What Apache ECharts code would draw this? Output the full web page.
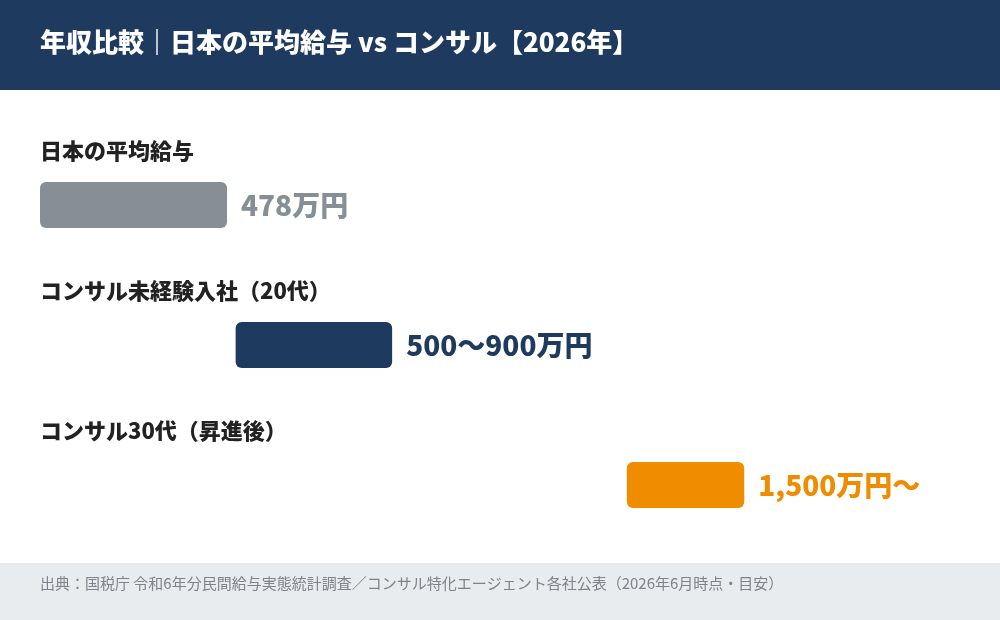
<!DOCTYPE html>
<html lang="ja">
<head>
<meta charset="UTF-8">
<title>年収比較</title>
<script src="https://cdn.jsdelivr.net/npm/echarts@6/dist/echarts.min.js"></script>
<style>body{margin:0}#app{width:1000px;height:620px}</style>
</head>
<body>
<div id="app"></div>
<script>
var categories = ["日本の平均給与", "コンサル未経験入社（20代）", "コンサル30代（昇進後）"];
var lowValues = [0, 500, 1500];
var highValues = [478, 900, 1800];
var valueLabels = ["478万円", "500〜900万円", "1,500万円〜"];
var colors = ["#868e96", "#1f3a5f", "#f08c00"];
var font = '"Noto Sans CJK JP", "Noto Sans", sans-serif';

var myChart = echarts.init(document.getElementById('app'));
var gridTop = 135, rowH = 140;
var titleTexts = categories.map(function (c, i) {
	return {
		type: 'text', left: 40, top: gridTop + i * rowH + 5,
		style: { text: c, fill: '#222', font: '900 22px ' + font }
	};
});
var option = {
	backgroundColor: '#fff',
	animation: false,
	graphic: [
		{ type: 'rect', shape: { x: 0, y: 0, width: 1000, height: 90 }, style: { fill: '#1f3a5f' } },
		{ type: 'text', left: 40, top: 29, style: { text: '年収比較｜日本の平均給与 vs コンサル【2026年】', fill: '#fff', font: '900 26px ' + font } },
		{ type: 'rect', shape: { x: 0, y: 563, width: 1000, height: 57 }, style: { fill: '#e9ecef' } },
		{ type: 'text', left: 40, top: 576, style: { text: '出典：国税庁 令和6年分民間給与実態統計調査／コンサル特化エージェント各社公表（2026年6月時点・目安）', fill: '#7d838b', font: '15px ' + font } }
	].concat(titleTexts),
	grid: { left: 40, right: 21, top: gridTop, height: rowH * 3, containLabel: false },
	xAxis: { type: 'value', min: 0, max: 2400, show: false },
	yAxis: { type: 'category', inverse: true, data: categories, show: false },
	series: [
		{
			type: 'bar', stack: 'r', barWidth: 46, silent: true,
			itemStyle: { color: 'transparent' },
			data: lowValues
		},
		{
			type: 'bar', stack: 'r', barWidth: 46,
			data: highValues.map(function (v, i) {
				return {
					value: v - lowValues[i],
					itemStyle: { color: colors[i], borderRadius: 6 },
					label: { color: colors[i] }
				};
			}),
			label: {
				show: true, position: 'right', distance: 14,
				fontFamily: font, fontWeight: 900, fontSize: 28,
				formatter: function (p) { return valueLabels[p.dataIndex]; }
			}
		}
	]
};
myChart.setOption(option);
</script>
</body>
</html>
